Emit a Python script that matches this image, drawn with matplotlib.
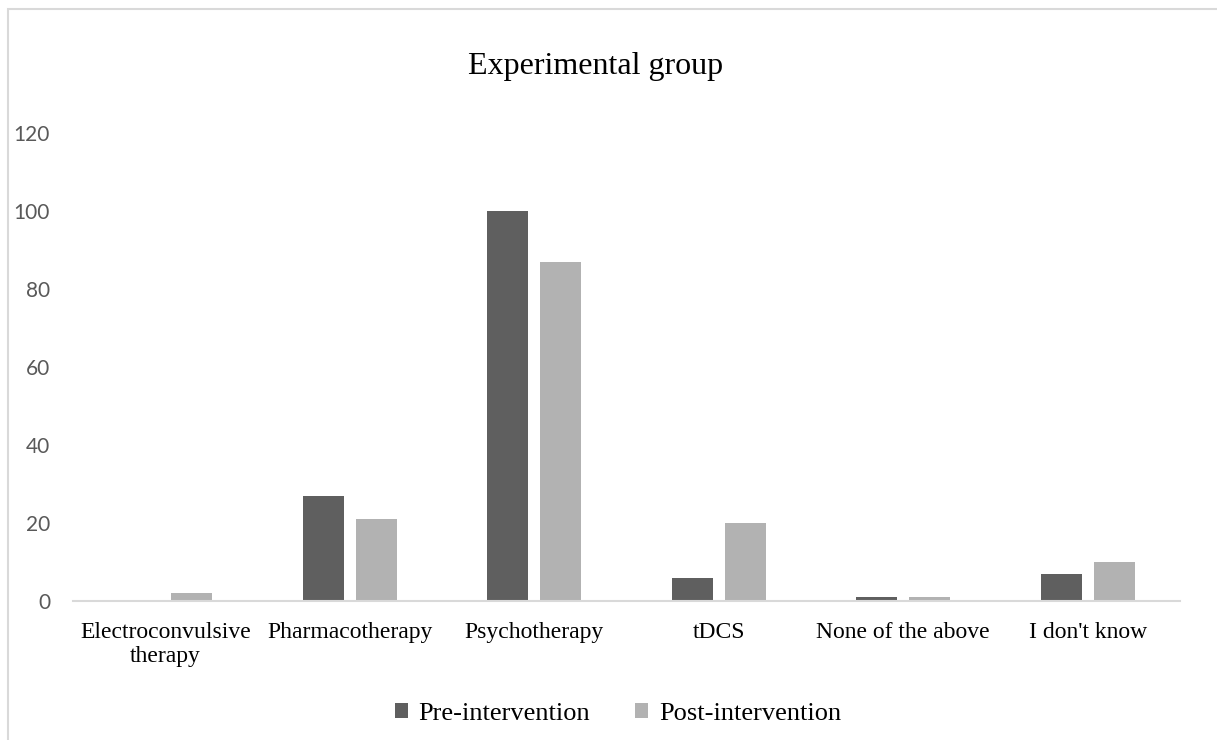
import numpy as np
import matplotlib.pyplot as plt
from matplotlib.patches import Rectangle

categories = ['Electroconvulsive\ntherapy', 'Pharmacotherapy', 'Psychotherapy',
              'tDCS', 'None of the above', "I don't know"]
pre_values = [0, 27, 100, 6, 1, 7]
post_values = [2, 21, 87, 20, 1, 10]
y_ticks = [0, 20, 40, 60, 80, 100, 120]

serif = ['Liberation Serif', 'DejaVu Serif']
sans = ['Lato', 'DejaVu Sans']

fig = plt.figure(figsize=(12.17, 7.40), dpi=100)
ax = fig.add_axes([0.060, 0.1878, 0.9096, 0.6325])

x = np.arange(len(categories))
w = 0.222
off = 0.144
ax.bar(x - off, pre_values, w, color='#5f5f5f', label='Pre-intervention')
ax.bar(x + off, post_values, w, color='#b2b2b2', label='Post-intervention')

ax.set_xlim(-0.5, len(categories) - 0.5)
ax.set_ylim(0, 120)
ax.set_yticks(y_ticks)
ax.set_xticks(x)
ax.set_xticklabels(categories, fontfamily=serif, fontsize=17, color='black')
for lbl in ax.get_yticklabels():
    lbl.set_fontfamily(sans)
    lbl.set_fontsize(15)
    lbl.set_color('#595959')
ax.tick_params(axis='both', length=0)
ax.tick_params(axis='y', pad=16.5)
ax.tick_params(axis='x', pad=15)

for s in ['top', 'right', 'left']:
    ax.spines[s].set_visible(False)
ax.spines['bottom'].set_color('#d9d9d9')
ax.spines['bottom'].set_linewidth(1.5)

fig.text(596 / 1217, 1 - 74 / 740, 'Experimental group', ha='center', va='baseline',
         fontfamily=serif, fontsize=23)

leg = fig.legend(loc='center', bbox_to_anchor=(618 / 1217, 1 - 714 / 740), ncol=2,
                 frameon=False, prop={'family': serif, 'size': 19},
                 handlelength=0.5, handleheight=0.5, handletextpad=0.4,
                 columnspacing=1.7)

# outer chart frame (cropped on right and bottom)
fig.patches.append(Rectangle((8 / 1217, -0.1), 1.2, 1.1 - 9 / 740,
                             transform=fig.transFigure, fill=False,
                             edgecolor='#d9d9d9', linewidth=1.5))

fig.savefig('out.png', dpi=100)
